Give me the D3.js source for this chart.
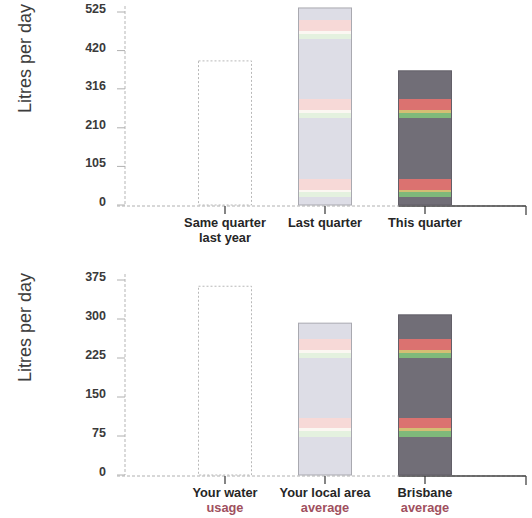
<!DOCTYPE html>
<html>
<head>
<meta charset="utf-8">
<script src="https://cdn.jsdelivr.net/npm/d3@7"></script>
<style>
  html, body { margin: 0; padding: 0; background: #fff; }
  svg { display: block; }
</style>
</head>
<body>
<div id="chart"></div>
<script>
var topCategories = ["Same quarter|last year", "Last quarter", "This quarter"];
var topValues = [392, 536, 365];
var topTicks = [0, 105, 210, 316, 420, 525];

var bottomCategories = ["Your water|usage", "Your local area|average", "Brisbane|average"];
var bottomValues = [363, 292, 308];
var bottomTicks = [0, 75, 150, 225, 300, 375];

var W = 532, H = 518;
var svg = d3.select('#chart').append('svg')
    .attr('width', W)
    .attr('height', H);

// bar looks: 0 = empty outline, 1 = light grey, 2 = dark grey
var barStyles = [
    { fill: '#ffffff', stroke: '#b8b8b8', dash: '2,2', stripes: null },
    { fill: '#dddde6', stroke: '#a9a9b0', dash: null, stripes: ['#f8d8d6', '#fcf8f2', '#e4f1de'] },
    { fill: '#716e77', stroke: '#625f68', dash: null, stripes: ['#e07270', '#d8c274', '#80bd7a'] }
];

function drawChart(g, categories, values, ticks, yMax, y0, y1, stripeRows) {
    var axisX = 125, axisEnd = 526;

    var x = d3.scaleBand()
        .domain(categories)
        .range([175, 475])
        .paddingInner(0.47)
        .paddingOuter(0.235);

    var y = d3.scaleLinear()
        .domain([0, yMax])
        .range([y0, y1]);

    // y axis line (dotted, faint)
    g.append('line')
        .attr('x1', axisX).attr('x2', axisX)
        .attr('y1', y1 - 6).attr('y2', y0)
        .attr('stroke', '#b5b5b5')
        .attr('stroke-width', 1)
        .attr('stroke-dasharray', '3,2');

    // y ticks + labels
    ticks.forEach(function(t) {
        g.append('line')
            .attr('x1', axisX - 8).attr('x2', axisX)
            .attr('y1', y(t)).attr('y2', y(t))
            .attr('stroke', '#b0b0b0');
        g.append('text')
            .attr('x', 106)
            .attr('y', y(t) + 1)
            .attr('text-anchor', 'end')
            .attr('font-family', 'Liberation Sans, Arial, sans-serif')
            .attr('font-size', 12.5)
            .attr('font-weight', 'bold')
            .attr('fill', '#3a3a3a')
            .text(t);
    });

    // baseline: faint dotted then solid dark to the right end
    g.append('line')
        .attr('x1', axisX - 8).attr('x2', axisEnd)
        .attr('y1', y0 + 1).attr('y2', y0 + 1)
        .attr('stroke', '#b0b0b0')
        .attr('stroke-dasharray', '3,2');
    g.append('line')
        .attr('x1', x(categories[2])).attr('x2', axisEnd)
        .attr('y1', y0 + 1).attr('y2', y0 + 1)
        .attr('stroke', '#444')
        .attr('stroke-width', 1.3);
    g.append('line')
        .attr('x1', axisEnd).attr('x2', axisEnd)
        .attr('y1', y0 + 1).attr('y2', y0 + 10)
        .attr('stroke', '#444')
        .attr('stroke-width', 1.3);

    // bars
    categories.forEach(function(c, i) {
        var st = barStyles[i];
        var top = y(values[i]);
        g.append('rect')
            .attr('x', x(c))
            .attr('y', top)
            .attr('width', x.bandwidth())
            .attr('height', y0 - top)
            .attr('fill', st.fill)
            .attr('stroke', st.stroke)
            .attr('stroke-width', 1)
            .attr('stroke-dasharray', st.dash);

        // printing stripes from the scan
        if (st.stripes) {
            stripeRows.forEach(function(r) {
                var a = Math.max(r[0], top + 1), b = Math.min(r[1], y0);
                if (b <= a) return;
                g.append('rect')
                    .attr('x', x(c) + 0.5)
                    .attr('y', a)
                    .attr('width', x.bandwidth() - 1)
                    .attr('height', b - a)
                    .attr('fill', st.stripes[r[2]])
                    .attr('opacity', 0.95);
            });
        }
    });

    // category ticks + labels
    categories.forEach(function(c) {
        var cx = x(c) + x.bandwidth() / 2;
        g.append('line')
            .attr('x1', cx).attr('x2', cx)
            .attr('y1', y0 + 1).attr('y2', y0 + 9)
            .attr('stroke', '#333')
            .attr('stroke-width', 1.2);
        var lines = c.split('|');
        lines.forEach(function(l, k) {
            g.append('text')
                .attr('x', cx)
                .attr('y', y0 + 22 + k * 15)
                .attr('text-anchor', 'middle')
                .attr('font-family', 'Liberation Sans, Arial, sans-serif')
                .attr('font-size', 12.8)
                .attr('font-weight', 'bold')
                .attr('fill', k == 1 && l != 'last year' ? '#a0505e' : '#262626')
                .text(l);
        });
    });

    // y title
    g.append('text')
        .attr('transform', 'translate(31,' + ((y0 + y1) / 2 - 50) + ') rotate(-90)')
        .attr('text-anchor', 'middle')
        .attr('font-family', 'Liberation Sans, Arial, sans-serif')
        .attr('font-size', 18)
        .attr('fill', '#3c3c3c')
        .text('Litres per day');
}

// stripe rows in page pixels: [top, bottom, colour index]
var topRows = [[20, 31, 0], [31, 34, 1], [34, 39, 2], [99, 110, 0], [110, 113, 1], [113, 118, 2], [179, 190, 0], [190, 192, 1], [192, 197, 2]];
var bottomRows = [[339, 350, 0], [350, 353, 1], [353, 358, 2], [418, 428, 0], [428, 431, 1], [431, 437, 2]];

drawChart(svg.append('g'), topCategories, topValues, topTicks, 525, 205, 12, topRows);
drawChart(svg.append('g'), bottomCategories, bottomValues, bottomTicks, 375, 475, 280, bottomRows);
</script>
</body>
</html>
